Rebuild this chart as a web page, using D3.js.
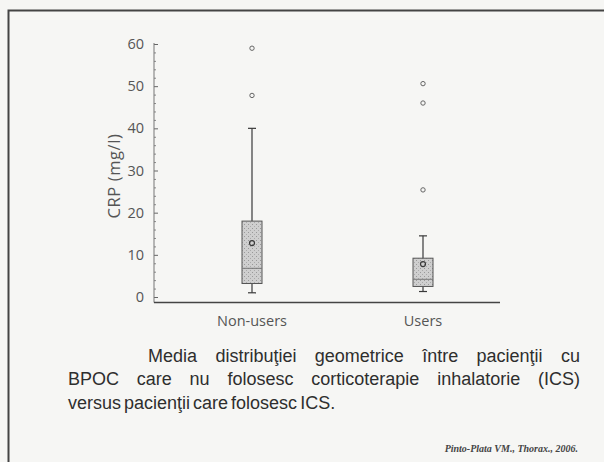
<!DOCTYPE html>
<html>
<head>
<meta charset="utf-8">
<script src="https://cdn.jsdelivr.net/npm/d3@7"></script>
<style>
  html, body { margin: 0; padding: 0; background: #f6f6f4; }
  svg { display: block; }
</style>
</head>
<body>
<svg id="chart" width="604" height="462"></svg>
<script>
// Box plot data: CRP (mg/l) by inhaled corticosteroid use
const groups       = ["Non-users", "Users"];
const whiskerLow   = [1.0, 1.3];
const q1           = [3.2, 2.5];
const median       = [6.8, 4.2];
const q3           = [18.0, 9.2];
const whiskerHigh  = [40.0, 14.5];
const geoMean      = [12.8, 7.8];
const outliers     = [[59.0, 47.8], [50.6, 46.0, 25.4]];
const yTicks       = [0, 10, 20, 30, 40, 50, 60];
const yLabel       = "CRP (mg/l)";
const captionLines = [
  "Media distribuţiei geometrice între pacienţii cu",
  "BPOC care nu folosesc corticoterapie inhalatorie (ICS)",
  "versus pacienţii care folosesc ICS."
];
const citation = "Pinto-Plata VM., Thorax., 2006.";

const svg = d3.select("#chart");
const ink = "#3a3a3a";
const labelFont = "'Open Sans', 'DejaVu Sans', sans-serif";

// Page frame (left and top rules)
svg.append("path")
  .attr("d", "M8.5,462 L8.5,10.5 L604,10.5")
  .attr("fill", "none").attr("stroke", "#444").attr("stroke-width", 2);

const y = d3.scaleLinear().domain([0, 60]).range([297, 44]);
const x = d3.scalePoint().domain(groups).range([252, 423]);

const axisX = 154, baseY = 302.5;

// Y axis with inward ticks
const yAxis = svg.append("g").attr("transform", `translate(${axisX},0)`)
  .call(d3.axisRight(y).tickValues(yTicks).tickSize(4).tickFormat(""));
yAxis.select(".domain").remove();
yAxis.selectAll("line").attr("stroke", "#666");
svg.append("g").attr("transform", `translate(${axisX},0)`)
  .call(d3.axisRight(y).tickValues(d3.range(0, 61, 2).filter(v => v % 10)).tickSize(2).tickFormat(""))
  .call(g => g.select(".domain").remove())
  .selectAll("line").attr("stroke", "#888");
svg.append("line")
  .attr("x1", axisX).attr("x2", axisX).attr("y1", y(60) - 1).attr("y2", baseY)
  .attr("stroke", "#777").attr("stroke-width", 1);

// Tick labels
svg.append("g").selectAll("text").data(yTicks).join("text")
  .attr("x", axisX - 10).attr("y", d => y(d)).attr("dy", "0.35em")
  .attr("text-anchor", "end")
  .attr("font-family", labelFont).attr("font-size", 14.5)
  .attr("fill", "#555").text(d => d);

// Y label
svg.append("text")
  .attr("transform", `translate(120,176) rotate(-90)`)
  .attr("text-anchor", "middle")
  .attr("font-family", labelFont).attr("font-size", 16.5)
  .attr("letter-spacing", 0.6)
  .attr("fill", "#555").text(yLabel);

// Baseline
svg.append("line")
  .attr("x1", axisX).attr("x2", 500).attr("y1", baseY).attr("y2", baseY)
  .attr("stroke", "#444").attr("stroke-width", 1.6);

// Category labels
svg.append("g").selectAll("text").data(groups).join("text")
  .attr("x", d => x(d)).attr("y", 326)
  .attr("text-anchor", "middle")
  .attr("font-family", labelFont).attr("font-size", 14.5)
  .attr("fill", "#555").text(d => d);

// Stipple pattern for the boxes
const defs = svg.append("defs");
const pat = defs.append("pattern").attr("id", "stip")
  .attr("width", 4).attr("height", 4).attr("patternUnits", "userSpaceOnUse");
pat.append("rect").attr("width", 4).attr("height", 4).attr("fill", "#cfcfcf");
pat.append("rect").attr("x", 0).attr("y", 0).attr("width", 1).attr("height", 1).attr("fill", "#999");
pat.append("rect").attr("x", 2).attr("y", 2).attr("width", 1).attr("height", 1).attr("fill", "#aaa");

const boxW = 20, capW = 8;
groups.forEach((g, i) => {
  const cx = x(g);
  const G = svg.append("g");
  // whisker stem
  G.append("line").attr("x1", cx).attr("x2", cx)
    .attr("y1", y(whiskerHigh[i])).attr("y2", y(whiskerLow[i]))
    .attr("stroke", ink).attr("stroke-width", 1.2);
  // caps
  [whiskerHigh[i], whiskerLow[i]].forEach(v => {
    G.append("line").attr("x1", cx - capW / 2).attr("x2", cx + capW / 2)
      .attr("y1", y(v)).attr("y2", y(v)).attr("stroke", ink).attr("stroke-width", 1.2);
  });
  // box
  G.append("rect").attr("x", cx - boxW / 2).attr("width", boxW)
    .attr("y", y(q3[i])).attr("height", y(q1[i]) - y(q3[i]))
    .attr("fill", "url(#stip)").attr("stroke", "#555").attr("stroke-width", 1);
  // median
  G.append("line").attr("x1", cx - boxW / 2).attr("x2", cx + boxW / 2)
    .attr("y1", y(median[i])).attr("y2", y(median[i]))
    .attr("stroke", "#777").attr("stroke-width", 1);
  // geometric mean marker
  G.append("circle").attr("cx", cx).attr("cy", y(geoMean[i])).attr("r", 2.5)
    .attr("fill", "none").attr("stroke", ink).attr("stroke-width", 1.2);
  // outliers
  G.selectAll(".o").data(outliers[i]).join("circle")
    .attr("cx", cx).attr("cy", d => y(d)).attr("r", 2.2)
    .attr("fill", "none").attr("stroke", "#666").attr("stroke-width", 1);
});

// Caption: first two lines justified, last line set tight
const capFont = "'Liberation Sans', Arial, sans-serif";
const capSize = 18;
const capLeft = 68, capRight = 580, capBase = [362, 385, 409];
const measure = svg.append("text").attr("font-family", capFont).attr("font-size", capSize);
const widthOf = w => { measure.text(w); return measure.node().getComputedTextLength(); };
captionLines.forEach((t, i) => {
  const txt = svg.append("text")
    .attr("y", capBase[i])
    .attr("font-family", capFont).attr("font-size", capSize)
    .attr("fill", "#2e2e2e");
  const words = t.split(" ");
  const widths = words.map(widthOf);
  const start = i === 0 ? 148 : capLeft;
  const gap = i < 2
    ? (capRight - start - d3.sum(widths)) / (words.length - 1)
    : 3;
  let pos = start;
  words.forEach((w, k) => {
    txt.append("tspan").attr("x", pos).text(w);
    pos += widths[k] + gap;
  });
});
measure.remove();

// Citation
svg.append("text")
  .attr("x", 578).attr("y", 452).attr("text-anchor", "end")
  .attr("font-family", "'Liberation Serif', 'Times New Roman', serif")
  .attr("font-style", "italic").attr("font-weight", "bold").attr("font-size", 10)
  .attr("fill", "#444").text(citation);
</script>
</body>
</html>
